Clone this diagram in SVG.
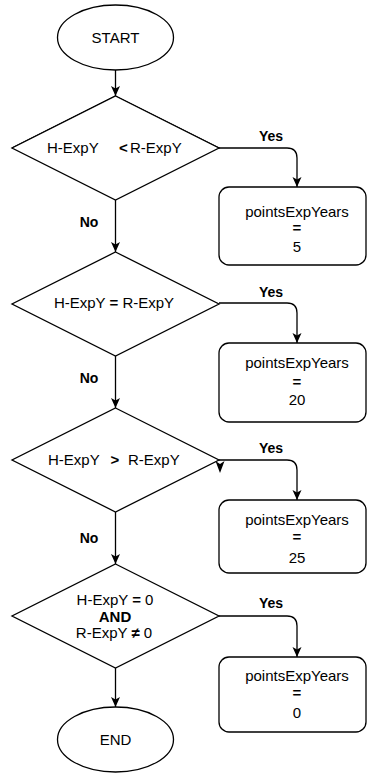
<svg xmlns="http://www.w3.org/2000/svg" width="367" height="774" viewBox="0 0 367 774">
  <style>
    .shape { fill: #ffffff; stroke: #000000; stroke-width: 1.3; }
    .edge { fill: none; stroke: #000000; stroke-width: 1.3; }
    text { font-family: "Liberation Sans", Arial, sans-serif; font-size: 15px; fill: #000000; }
    .c { text-anchor: middle; }
    .b { font-weight: bold; }
    .lbl { font-size: 14px; font-weight: bold; text-anchor: middle; }
  </style>
  <defs>
    <marker id="arrow" viewBox="0 0 10 10" refX="10" refY="5" markerWidth="10" markerHeight="10" markerUnits="userSpaceOnUse" orient="auto">
      <path d="M0,0.5 L10,5 L0,9.5 L2.5,5 Z" fill="#000000"/>
    </marker>
  </defs>

  <rect width="367" height="774" fill="#ffffff"/>

  <!-- connectors -->
  <g id="connectors">
    <path class="edge" d="M115.5,70 V96" marker-end="url(#arrow)"/>
    <path class="edge" d="M115.5,200 V252" marker-end="url(#arrow)"/>
    <path class="edge" d="M115.5,356 V408" marker-end="url(#arrow)"/>
    <path class="edge" d="M115.5,512 V564" marker-end="url(#arrow)"/>
    <path class="edge" d="M115.5,668 V707" marker-end="url(#arrow)"/>

    <path class="edge" d="M219,148 H287 Q297,148 297,158 V187" marker-end="url(#arrow)"/>
    <path class="edge" d="M219,303 H287 Q297,303 297,313 V343" marker-end="url(#arrow)"/>
    <path class="edge" d="M219,460 H287 Q297,460 297,470 V500" marker-end="url(#arrow)"/>
    <path class="edge" d="M219,616 H287 Q297,616 297,626 V657" marker-end="url(#arrow)"/>
    <!-- stray arrowhead at the right corner of the third decision -->
    <path d="M215.5,461 L220,464 L224.5,461 L220,473 Z" fill="#000000"/>

    <text class="lbl" x="271" y="141">Yes</text>
    <text class="lbl" x="271" y="297">Yes</text>
    <text class="lbl" x="271" y="453">Yes</text>
    <text class="lbl" x="271" y="608">Yes</text>
    <text class="lbl" x="89" y="227">No</text>
    <text class="lbl" x="89" y="383">No</text>
    <text class="lbl" x="89" y="543">No</text>
  </g>

  <!-- start -->
  <g id="start">
    <ellipse class="shape" cx="115.5" cy="37.5" rx="58" ry="32.5"/>
    <text class="c" x="115.5" y="43">START</text>
  </g>

  <!-- decision 1 -->
  <g id="cond-less">
    <polygon class="shape" points="115.5,96 219,148 12,148 115.5,96" />
    <polygon class="shape" points="115.5,96 219,148 115.5,200 12,148"/>
    <text x="47" y="153">H-ExpY</text>
    <text class="c b" x="123.5" y="153">&lt;</text>
    <text x="130" y="153">R-ExpY</text>
  </g>

  <g id="set-5">
    <rect class="shape" x="219" y="187" width="147" height="78" rx="10"/>
    <text class="c" x="297" y="217">pointsExpYears</text>
    <text class="c b" x="297" y="233">=</text>
    <text class="c" x="297" y="252">5</text>
  </g>

  <!-- decision 2 -->
  <g id="cond-equal">
    <polygon class="shape" points="115.5,252 219,304 115.5,356 12,304"/>
    <text class="c" x="114" y="308">H-ExpY <tspan class="b">=</tspan> R-ExpY</text>
  </g>

  <g id="set-20">
    <rect class="shape" x="219" y="343" width="147" height="79" rx="10"/>
    <text class="c" x="297" y="368">pointsExpYears</text>
    <text class="c b" x="297" y="387">=</text>
    <text class="c" x="297" y="405">20</text>
  </g>

  <!-- decision 3 -->
  <g id="cond-greater">
    <polygon class="shape" points="115.5,408 219,460 115.5,512 12,460"/>
    <text x="48" y="465">H-ExpY</text>
    <text class="c b" x="115" y="465">&gt;</text>
    <text x="128" y="465">R-ExpY</text>
  </g>

  <g id="set-25">
    <rect class="shape" x="219" y="500" width="147" height="73" rx="10"/>
    <text class="c" x="297" y="525">pointsExpYears</text>
    <text class="c b" x="297" y="542">=</text>
    <text class="c" x="297" y="563">25</text>
  </g>

  <!-- decision 4 -->
  <g id="cond-zero">
    <polygon class="shape" points="115.5,564 219,616 115.5,668 12,616"/>
    <text class="c" x="115" y="605">H-ExpY <tspan class="b">=</tspan> 0</text>
    <text class="c b" x="115" y="622">AND</text>
    <text class="c" x="114" y="638">R-ExpY <tspan class="b">≠</tspan> 0</text>
  </g>

  <g id="set-0">
    <rect class="shape" x="219" y="657" width="147" height="75" rx="10"/>
    <text class="c" x="297" y="681">pointsExpYears</text>
    <text class="c b" x="297" y="698">=</text>
    <text class="c" x="297" y="718">0</text>
  </g>

  <!-- end -->
  <g id="end">
    <ellipse class="shape" cx="115.5" cy="739.5" rx="58" ry="32.5"/>
    <text class="c" x="115.5" y="745">END</text>
  </g>
</svg>
